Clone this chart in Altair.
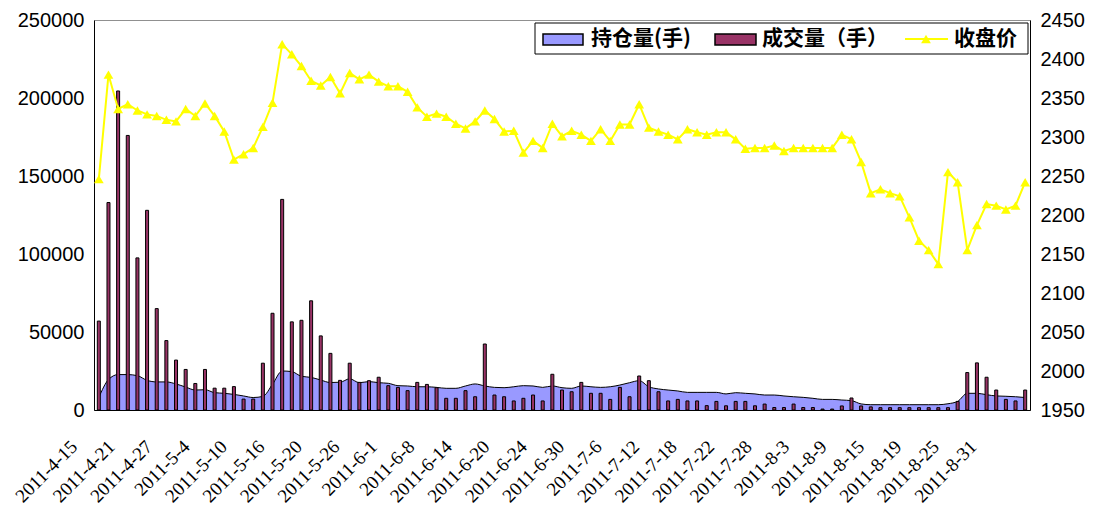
import altair as alt
import pandas as pd

dates = [
    "2011-4-15", "2011-4-18", "2011-4-19", "2011-4-20", "2011-4-21", "2011-4-22", "2011-4-25", "2011-4-26",
    "2011-4-27", "2011-4-28", "2011-4-29", "2011-5-3", "2011-5-4", "2011-5-5", "2011-5-6", "2011-5-9",
    "2011-5-10", "2011-5-11", "2011-5-12", "2011-5-13", "2011-5-16", "2011-5-17", "2011-5-18", "2011-5-19",
    "2011-5-20", "2011-5-23", "2011-5-24", "2011-5-25", "2011-5-26", "2011-5-27", "2011-5-30", "2011-5-31",
    "2011-6-1", "2011-6-2", "2011-6-3", "2011-6-7", "2011-6-8", "2011-6-9", "2011-6-10", "2011-6-13",
    "2011-6-14", "2011-6-15", "2011-6-16", "2011-6-17", "2011-6-20", "2011-6-21", "2011-6-22", "2011-6-23",
    "2011-6-24", "2011-6-27", "2011-6-28", "2011-6-29", "2011-6-30", "2011-7-1", "2011-7-4", "2011-7-5",
    "2011-7-6", "2011-7-7", "2011-7-8", "2011-7-11", "2011-7-12", "2011-7-13", "2011-7-14", "2011-7-15",
    "2011-7-18", "2011-7-19", "2011-7-20", "2011-7-21", "2011-7-22", "2011-7-25", "2011-7-26", "2011-7-27",
    "2011-7-28", "2011-7-29", "2011-8-1", "2011-8-2", "2011-8-3", "2011-8-4", "2011-8-5", "2011-8-8",
    "2011-8-9", "2011-8-10", "2011-8-11", "2011-8-12", "2011-8-15", "2011-8-16", "2011-8-17", "2011-8-18",
    "2011-8-19", "2011-8-22", "2011-8-23", "2011-8-24", "2011-8-25", "2011-8-26", "2011-8-29", "2011-8-30",
    "2011-8-31",
]

open_interest = [
    8000, 19500, 22700, 22700, 22000, 19000, 18000, 18000, 16700, 14700,
    12800, 13000, 11100, 10700, 10000, 9000, 8000, 8700, 16500, 25000,
    24600, 21600, 20900, 19200, 17600, 17800, 20000, 17500, 18200, 17500,
    17100, 15600, 15400, 14900, 14900, 14500, 13900, 13900, 15400, 16700,
    15400, 14500, 14300, 14900, 15600, 15400, 14500, 15400, 14300, 13900,
    15400, 14900, 14500, 14900, 16000, 17500, 18800, 14900, 13500, 12800,
    12200, 11300, 11300, 11300, 11300, 10300, 11100, 10700, 10300, 9600,
    9600, 9000, 8500, 8100, 7500, 6800, 6800, 6400, 6000, 3900,
    3400, 3400, 3400, 3400, 3400, 3400, 3400, 3400, 4000, 5500,
    10700, 10700, 9800, 9000, 8800, 8500, 8000,
]

volume = [
    57000, 133000, 204500, 176000, 97500, 128000, 65000, 44500, 32000, 26000,
    17000, 26000, 14000, 14000, 15000, 7000, 7000, 30000, 62000, 135000,
    56500, 57500, 70000, 47500, 36300, 19000, 30000, 17700, 18800, 21000,
    15600, 14500, 12400, 17700, 16400, 14300, 7500, 7500, 12400, 8500,
    42300, 9600, 8500, 5800, 7500, 9600, 5800, 22900, 12800, 11700,
    17700, 10700, 10700, 6800, 14500, 8500, 21800, 18800, 11700, 5800,
    6800, 5800, 5800, 2800, 5500, 2700, 5500, 5500, 2700, 3800,
    1600, 1600, 3800, 1600, 1600, 600, 600, 2600, 7700, 2600,
    2000, 1500, 1500, 1500, 1500, 1500, 1500, 1500, 1500, 5500,
    24000, 30200, 21000, 12800, 6800, 5800, 12800,
]

close_price = [
    2246, 2380, 2336, 2342, 2334, 2329, 2327, 2322, 2320, 2336,
    2327, 2343, 2327, 2307, 2271, 2278, 2286, 2313, 2344, 2419,
    2406, 2391, 2372, 2366, 2377, 2356, 2382, 2374, 2380, 2371,
    2365, 2365, 2358, 2338, 2326, 2330, 2326, 2317, 2311, 2320,
    2334, 2323, 2307, 2308, 2280, 2295, 2286, 2317, 2301, 2308,
    2303, 2295, 2310, 2295, 2316, 2316, 2342, 2312, 2307, 2303,
    2297, 2310, 2306, 2303, 2306, 2306, 2297, 2285, 2286, 2286,
    2289, 2282, 2286, 2286, 2286, 2286, 2286, 2303, 2297, 2268,
    2228, 2233, 2228, 2224, 2197, 2167, 2155, 2137, 2255, 2242,
    2155, 2187, 2214, 2212, 2207, 2212, 2242,
]

left_ticks = [0, 50000, 100000, 150000, 200000, 250000]
right_ticks = [1950, 2000, 2050, 2100, 2150, 2200, 2250, 2300, 2350, 2400, 2450]
legend_labels = ["持仓量(手)", "成交量（手）", "收盘价"]

df = pd.DataFrame({"date": dates, "oi": open_interest, "vol": volume, "price": close_price})

x_enc = alt.X(
    "date:N",
    sort=dates,
    scale=alt.Scale(paddingInner=0, paddingOuter=0),
    axis=alt.Axis(
        values=dates[::4], labelAngle=-45, labelAlign="right", labelBaseline="top",
        labelFont="Liberation Serif", labelFontSize=19, labelPadding=27,
        labelOffset=alt.ExprRef(expr="-31 - 27 * datum.index"),
        ticks=False, domainColor="black", title=None, labelColor="black",
    ),
)

y_left = alt.Y(
    "oi:Q",
    scale=alt.Scale(domain=[0, 250000], nice=False),
    axis=alt.Axis(
        orient="left", values=left_ticks, format="d", title=None, ticks=False,
        labelFont="Liberation Sans", labelFontSize=20, labelColor="black",
        labelPadding=10, domainColor="black",
    ),
)

area = alt.Chart(df).mark_area(
    color="#9999FF", interpolate="monotone", opacity=1,
    line={"color": "black", "strokeWidth": 1},
).encode(x=x_enc, y=y_left)

bars = alt.Chart(df).mark_bar(
    color="#993366", stroke="black", strokeWidth=1, size=3
).encode(x=x_enc, y=alt.Y("vol:Q", scale=alt.Scale(domain=[0, 250000], nice=False)))

left = alt.layer(area, bars)

line = alt.Chart(df).mark_line(
    color="#FFFF00", strokeWidth=2,
    point=alt.OverlayMarkDef(shape="triangle-up", size=95, filled=True, color="#FFFF00"),
).encode(
    x=x_enc,
    y=alt.Y(
        "price:Q",
        scale=alt.Scale(domain=[1950, 2450], nice=False),
        axis=alt.Axis(
            orient="right", values=right_ticks, format="d", title=None, ticks=False,
            labelFont="Liberation Sans", labelFontSize=20, labelColor="black",
            labelPadding=10, domainColor="black",
        ),
    ),
)

one = pd.DataFrame({"k": [0]})
box = alt.Chart(one).mark_rect(fill="white", stroke="black", strokeWidth=1).encode(
    x=alt.value(441), x2=alt.value(934), y=alt.value(3), y2=alt.value(34))
sw1 = alt.Chart(one).mark_rect(fill="#9999FF", stroke="black", strokeWidth=1.5).encode(
    x=alt.value(449), x2=alt.value(489), y=alt.value(14), y2=alt.value(25))
sw2 = alt.Chart(one).mark_rect(fill="#993366", stroke="black", strokeWidth=1.5).encode(
    x=alt.value(621), x2=alt.value(662), y=alt.value(14), y2=alt.value(25))
sw3 = alt.Chart(one).mark_rule(color="#FFFF00", strokeWidth=2).encode(
    x=alt.value(811), x2=alt.value(854), y=alt.value(19))
sw3p = alt.Chart(one).mark_point(shape="triangle-up", size=95, filled=True, color="#FFFF00", opacity=1).encode(
    x=alt.value(832), y=alt.value(19))

def leg_text(label, xpos):
    return alt.Chart(pd.DataFrame({"t": [label]})).mark_text(
        align="left", baseline="middle", font="Noto Sans CJK SC", fontSize=21,
        fontWeight="bold", color="black",
    ).encode(x=alt.value(xpos), y=alt.value(19), text="t:N")

t1 = leg_text(legend_labels[0], 497)
t2 = leg_text(legend_labels[1], 668)
t3 = leg_text(legend_labels[2], 860)

chart = alt.layer(left, line, box, sw1, sw2, sw3, sw3p, t1, t2, t3).resolve_scale(
    y="independent"
).properties(
    width=936, height=390,
    autosize=alt.AutoSizeParams(type="none"),
    padding={"left": 86, "top": 12, "right": 59, "bottom": 108},
).configure_view(stroke="#909090").configure_axis(grid=False)

chart.save("out.html", embed_options={"renderer": "svg", "actions": False})
